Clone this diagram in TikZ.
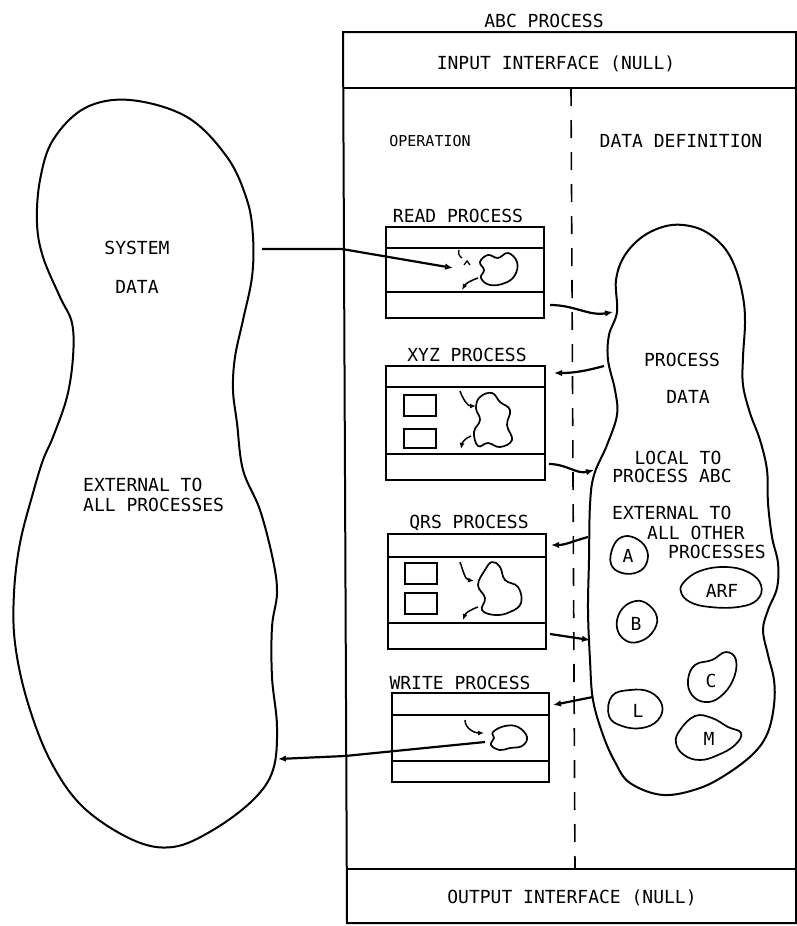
\documentclass[tikz,border=0pt]{standalone}
\usepackage{fontspec}
\newfontfamily\lettering{DejaVu Sans Mono}
\usetikzlibrary{arrows.meta}
\tikzset{
  frame/.style={line width=2pt},
  blob/.style={line width=2pt},
  cloud/.style={line width=1.7pt},
  lbl/.style={font=\lettering\fontsize{18}{20}\selectfont, inner sep=0pt},
  slbl/.style={font=\lettering\fontsize{15}{17}\selectfont, inner sep=0pt},
  arr/.style={line width=2.2pt,-{Latex[length=8pt,width=6.5pt]}},
  oarr/.style={line width=2.2pt,-{Latex[open,length=8pt,width=6.5pt]}},
  sarr/.style={line width=1.5pt,-{Latex[length=6pt,width=5pt]}},
  dashline/.style={line width=1.6pt, dash pattern=on 18pt off 14pt}
}
\begin{document}
\begin{tikzpicture}[x=1pt,y=-1pt]
\useasboundingbox (0,0) rectangle (797,926);
\fill[white] (0,0) rectangle (797,926);

% ---- main ABC process frame ----
\draw[frame] (343,32) -- (796,32) -- (796,923) -- (347,923) -- cycle;
\draw[frame] (343,88) -- (796,88);
\draw[frame] (347,869) -- (796,869);
\draw[dashline] (571,88) -- (575,869);

\node[lbl] (abc) at (544,21) {ABC PROCESS};
\node[lbl] (inif) at (556,64) {INPUT INTERFACE (NULL)};
\node[lbl] (outif) at (572,898) {OUTPUT INTERFACE (NULL)};
\node[slbl] (oper) at (430,141) {OPERATION};
\node[lbl] (ddef) at (681,141) {DATA DEFINITION};

% ---- READ process ----
\node[lbl] (readl) at (458,216) {READ PROCESS};
\draw[frame] (386,227) rectangle (544,318);
\draw[frame] (386,248) -- (544,248);
\draw[frame] (386,292) -- (544,292);
\draw[cloud] plot[smooth cycle, tension=0.7] coordinates {(480,262) (488,255) (498,258) (508,253) (517,262) (515,275) (505,283) (490,285) (481,278) (484,270)};
\draw[line width=1.3pt] (459,250) to[out=250,in=150] (462,258);
\draw[line width=1.3pt] (464,265) -- (467,261) -- (470,265);
\draw[sarr] (478,278) to[out=200,in=60] (462,290);

% ---- XYZ process ----
\node[lbl] (xyzl) at (467,355) {XYZ PROCESS};
\draw[frame] (386,366) rectangle (545,480);
\draw[frame] (386,387) -- (545,387);
\draw[frame] (386,454) -- (545,454);
\draw[frame] (404,395) rectangle (436,416);
\draw[frame] (404,429) rectangle (436,448);
\draw[cloud] plot[smooth cycle, tension=0.7] coordinates {(480,397) (492,393) (500,402) (510,410) (507,425) (512,440) (500,447) (488,443) (478,446) (474,432) (480,420) (476,408)};
\draw[sarr] (460,391) to[out=290,in=180] (476,406);
\draw[sarr] (471,436) to[out=200,in=80] (461,449);

% ---- QRS process ----
\node[lbl] (qrsl) at (469,523) {QRS PROCESS};
\draw[frame] (388,534) rectangle (546,649);
\draw[frame] (388,557) -- (546,557);
\draw[frame] (388,623) -- (546,623);
\draw[frame] (405,563) rectangle (437,584);
\draw[frame] (405,593) rectangle (437,614);
\draw[cloud] plot[smooth cycle, tension=0.7] coordinates {(485,570) (492,562) (500,567) (505,580) (518,587) (521,603) (510,612) (495,615) (482,610) (485,598) (478,585)};
\draw[sarr] (460,562) to[out=290,in=170] (474,581);
\draw[sarr] (478,607) to[out=200,in=70] (463,620);

% ---- WRITE process ----
\node[lbl] (writel) at (460,683) {WRITE PROCESS};
\draw[frame] (392,693) rectangle (549,782);
\draw[frame] (392,715) -- (549,715);
\draw[frame] (392,761) -- (549,761);
\draw[cloud] plot[smooth cycle, tension=0.7] coordinates {(493,732) (505,726) (518,727) (527,737) (522,746) (510,748) (500,750) (491,745) (494,738)};
\draw[sarr] (465,720) to[out=270,in=180] (484,733);

% ---- SYSTEM DATA blob ----
\draw[blob] plot[smooth cycle, tension=0.6] coordinates {
 (130,100) (187,117) (227,157) (247,200) (253,237) (252,277) (243,320) (235,357)
 (233,390) (237,423) (243,470) (260,510) (273,560) (277,593) (272,627) (272,677)
 (277,727) (273,770) (253,800) (213,830) (173,847) (133,840) (83,807) (50,760)
 (27,700) (15,643) (14,593) (20,543) (33,493) (43,460) (53,437) (67,397) (73,357)
 (72,323) (60,297) (43,257) (37,223) (40,180) (53,140) (85,108)};
\node[lbl] (sys1) at (137,248) {SYSTEM};
\node[lbl] (sys2) at (137,287) {DATA};
\node[lbl, anchor=west] (ext1) at (83,485) {EXTERNAL TO};
\node[lbl, anchor=west] (ext2) at (83,505) {ALL PROCESSES};

% ---- PROCESS DATA blob ----
\draw[blob] plot[smooth cycle, tension=0.6] coordinates {
 (672,225) (700,229) (722,245) (735,267) (743,297) (745,323) (743,357) (743,385)
 (750,413) (760,440) (767,470) (768,503) (772,537) (778,563) (777,588) (768,610)
 (763,630) (768,655) (774,680) (774,705) (768,732) (755,752) (730,772) (700,788)
 (663,795) (630,783) (615,762) (603,735) (593,700) (590,660) (588,610) (589,560)
 (590,505) (594,475) (607,445) (617,415) (615,390) (608,360) (609,335) (617,312)
 (616,280) (625,255) (645,235)};
\node[lbl] (pd1) at (682,360) {PROCESS};
\node[lbl] (pd2) at (688,397) {DATA};
\node[lbl] (loc1) at (678,458) {LOCAL TO};
\node[lbl] (loc2) at (672,476) {PROCESS ABC};
\node[lbl, anchor=west] (eo1) at (612,513) {EXTERNAL TO};
\node[lbl, anchor=west] (eo2) at (647,533) {ALL OTHER};
\node[lbl, anchor=west] (eo3) at (668,552) {PROCESSES};

% small data blobs
\draw[cloud] plot[smooth cycle, tension=0.7] coordinates {(613,547) (622,537) (635,538) (646,548) (647,562) (638,572) (622,573) (611,564)};
\node[lbl] (ba) at (628,556) {A};
\draw[cloud] plot[smooth cycle, tension=0.7] coordinates {(684,582) (700,571) (725,567) (748,572) (761,585) (757,600) (738,607) (710,607) (690,602) (681,592)};
\node[lbl] (barf) at (722,591) {ARF};
\draw[cloud] plot[smooth cycle, tension=0.7] coordinates {(620,612) (632,602) (646,603) (657,617) (652,633) (638,642) (625,640) (617,628)};
\node[lbl] (bb) at (636,624) {B};
\draw[cloud] plot[smooth cycle, tension=0.7] coordinates {(695,665) (712,660) (726,652) (736,660) (733,680) (720,697) (705,702) (692,695) (688,680)};
\node[lbl] (bc) at (711,681) {C};
\draw[cloud] plot[smooth cycle, tension=0.7] coordinates {(612,696) (630,690) (650,692) (662,705) (658,720) (642,728) (622,726) (609,716)};
\node[lbl] (bl) at (638,711) {L};
\draw[cloud] plot[smooth cycle, tension=0.7] coordinates {(680,730) (695,716) (712,718) (728,727) (741,733) (735,745) (718,755) (700,760) (684,755) (676,743)};
\node[lbl] (bm) at (709,739) {M};

% ---- connectors ----
\coordinate (sdR) at (262,249);
\coordinate (bendR) at (342,249);
\coordinate (rdIn) at (453,268);
\draw[oarr] (sdR) -- (bendR) -- (rdIn);

\coordinate (rdOut) at (550,305);
\coordinate (pdA) at (613,312);
\draw[arr] (rdOut) to[out=0,in=190] (pdA);

\coordinate (pdB) at (604,366);
\coordinate (xyIn) at (554,373);
\draw[oarr] (pdB) to[out=195,in=0] (xyIn);

\coordinate (xyOut) at (549,464);
\coordinate (pdC) at (594,470);
\draw[arr] (xyOut) to[out=0,in=195] (pdC);

\coordinate (pdD) at (588,537);
\coordinate (qrIn) at (551,545);
\draw[arr] (pdD) to[out=195,in=0] (qrIn);

\coordinate (qrOut) at (550,634);
\coordinate (pdE) at (590,640);
\draw[arr] (qrOut) -- (pdE);

\coordinate (pdF) at (593,697);
\coordinate (wrIn) at (553,705);
\draw[arr] (pdF) -- (wrIn);

\coordinate (wrOut) at (485,742);
\coordinate (sdW) at (278,759);
\draw[arr] (wrOut) -- (345,756) -- (sdW);
\end{tikzpicture}
\end{document}
